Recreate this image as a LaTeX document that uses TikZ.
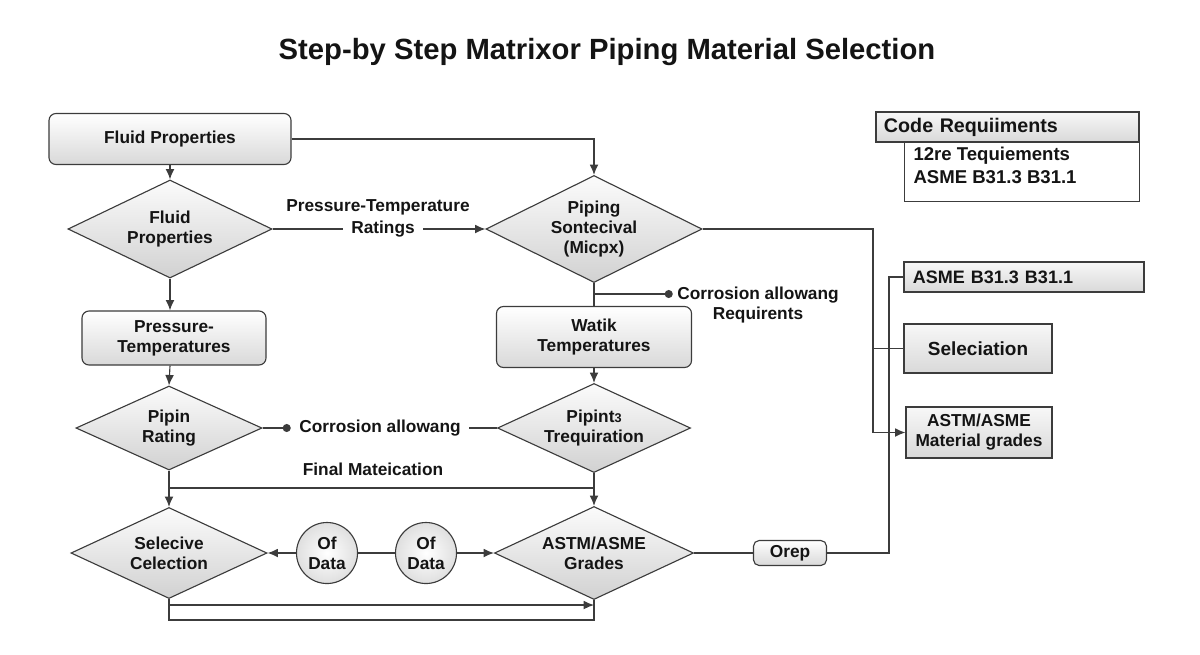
\documentclass[tikz,border=0pt]{standalone}
\usepackage{fontspec}
\setmainfont{Liberation Sans}
\usepackage{xcolor}
\usetikzlibrary{arrows.meta, positioning, shapes.geometric}

\definecolor{linec}{HTML}{3C3C3C}
\definecolor{ink}{HTML}{141414}

\begin{document}
\begin{tikzpicture}[x=0.025cm, y=-0.025cm, thick, color=linec,
        >={Latex[length=2.6mm,width=2.2mm]},
        every node/.style={font=\bfseries\fontsize{12.3}{14.2}\selectfont, text=ink, align=center},
        bigtxt/.style={font=\bfseries\fontsize{13.5}{16.4}\selectfont},
        rbox/.style={draw, rectangle, rounded corners=5pt, top color=white, bottom color=gray!30},
        dia/.style={draw, diamond, inner sep=-12pt, top color=gray!3, bottom color=gray!36},
        sbox/.style={draw, rectangle, top color=gray!6, bottom color=gray!30},
        datac/.style={draw, circle, inner sep=0pt, minimum size=1.525cm, inner color=white, outer color=gray!25},
        dotend/.style={-{Circle[length=2mm]}}]
        \useasboundingbox (0,0) rectangle (1200,654);

        % Title
        \node (title) [font=\bfseries\fontsize{20.8}{24}\selectfont] at (607,52) {Step-by Step Matrixor Piping Material Selection};

        % Left column
        \node (fp1) [rbox, minimum width=6.05cm, minimum height=1.275cm] at (170,139) {Fluid Properties};
        \node (d1) [dia, minimum width=5.1cm, minimum height=2.45cm] at (170,229) {Fluid\\Properties};
        \node (pt) [rbox, minimum width=4.6cm, minimum height=1.35cm, inner sep=0pt] at (174,338) {Pressure-\\Temperatures};
        \node (d2) [dia, minimum width=4.65cm, minimum height=2.1cm] at (169,428) {Pipin\\Rating};
        \node (d5) [dia, minimum width=4.9cm, minimum height=2.275cm] at (169,553) {Selecive\\Celection};

        % Middle column
        \node (d3) [dia, minimum width=5.4cm, minimum height=2.675cm] at (594,229) {Piping\\Sontecival\\(Micpx)};
        \node (watik) [rbox, minimum width=4.875cm, minimum height=1.525cm, inner sep=0pt] at (594,337) {Watik\\Temperatures};
        \node (d4) [dia, minimum width=4.825cm, minimum height=2.225cm] at (594,428) {Pipint{\fontsize{9}{9}\selectfont 3}\\Trequiration};
        \node (d6) [dia, minimum width=4.975cm, minimum height=2.325cm] at (594,553) {ASTM/ASME\\Grades};

        % Data circles and small box
        \node (c1) [datac] at (327,553) {Of\\Data};
        \node (c2) [datac] at (426,553) {Of\\Data};
        \node (orep) [rbox, rounded corners=4pt, minimum width=1.825cm, minimum height=0.625cm, inner sep=0pt] at (790,553) {Orep};

        % Free labels
        \node (ptlbl) at (378,207) {Pressure-Temperature};
        \node (ratings) [inner xsep=0.2cm] at (383,229) {Ratings};
        \node (corr1) [inner xsep=0.2cm] at (380,428) {Corrosion allowang};
        \node (final) at (373,469) {Final Mateication};
        \node (corr2) [inner xsep=0.1cm] at (758,305) {Corrosion allowang\\Requirents};

        % Right column
        \node (codehead) [sbox, font=\bfseries\fontsize{14}{16}\selectfont, minimum width=6.575cm, minimum height=0.75cm, text width=6.175cm, align=left, inner xsep=0.2cm, inner ysep=0pt] at (1007.5,127) {Code Requiiments};
        \node (codebody) [draw, fill=white, anchor=north west, minimum width=5.875cm, minimum height=1.475cm] at (904,142) {};
        \node (codetext) [font=\bfseries\fontsize{13.2}{16.4}\selectfont, anchor=north west, align=left, inner sep=0pt] at (913,146) {12re Tequiements\\ASME B31.3 B31.1};
        \node (asme) [sbox, font=\bfseries\fontsize{12.8}{15}\selectfont, minimum width=6cm, minimum height=0.75cm, text width=5.55cm, align=left, inner xsep=0.225cm, inner ysep=0pt] at (1024,277) {ASME B31.3 B31.1};
        \node (sel) [sbox, bigtxt, minimum width=3.7cm, minimum height=1.225cm] at (978,348.5) {Seleciation};
        \node (grades) [sbox, minimum width=3.65cm, minimum height=1.275cm, inner sep=0pt] at (979,432.5) {ASTM/ASME\\Material grades};

        % Helper points
        \coordinate (cb) at (594,294);
        \coordinate (jl) at (169,488);
        \coordinate (jr) at (594,488);
        \coordinate (bl) at (169,620);
        \coordinate (al) at (169,605);
        \coordinate (ar) at (594,605);
        \coordinate (rv) at (873,229);
        \coordinate (rv2) at (889,553);

        % Arrows
        \draw[->] (fp1) -- (d1);
        \draw[->] (fp1.east) -| (d3.north);
        \draw (d1.east) -- (ratings.west);
        \draw[->] (ratings.east) -- (d3.west);
        \draw[->] (d1.south) -- (d1.south |- pt.north);
        \draw[->] (d1.south |- pt.south) -- (d2.north);
        \draw[dotend] (d2.east) -- (corr1.west);
        \draw (corr1.east) -- (d4.west);
        \draw (d3.south) -- (watik.north);
        \draw[dotend] (cb) -- (cb -| corr2.west);
        \draw[->] (watik) -- (d4);
        \draw[->] (d2.south) -- (d5.north);
        \draw (jl) -- (jr);
        \draw[->] (d4.south) -- (d6.north);
        \draw[->] (c1) -- (d5.east);
        \draw (c1) -- (c2);
        \draw[->] (c2) -- (d6.west);
        \draw (d5.south) -- (bl) -| (d6.south);
        \draw[->] (al) -- (ar);
        \draw (d6.east) -- (orep.west);

        % Right side lines
        \draw[->] (d3.east) -- (rv) |- (grades.west);
        \draw (rv |- sel.west) -- (sel.west);
        \draw (orep.east) -- (rv2) |- (asme.west);
    \end{tikzpicture}
\end{document}
